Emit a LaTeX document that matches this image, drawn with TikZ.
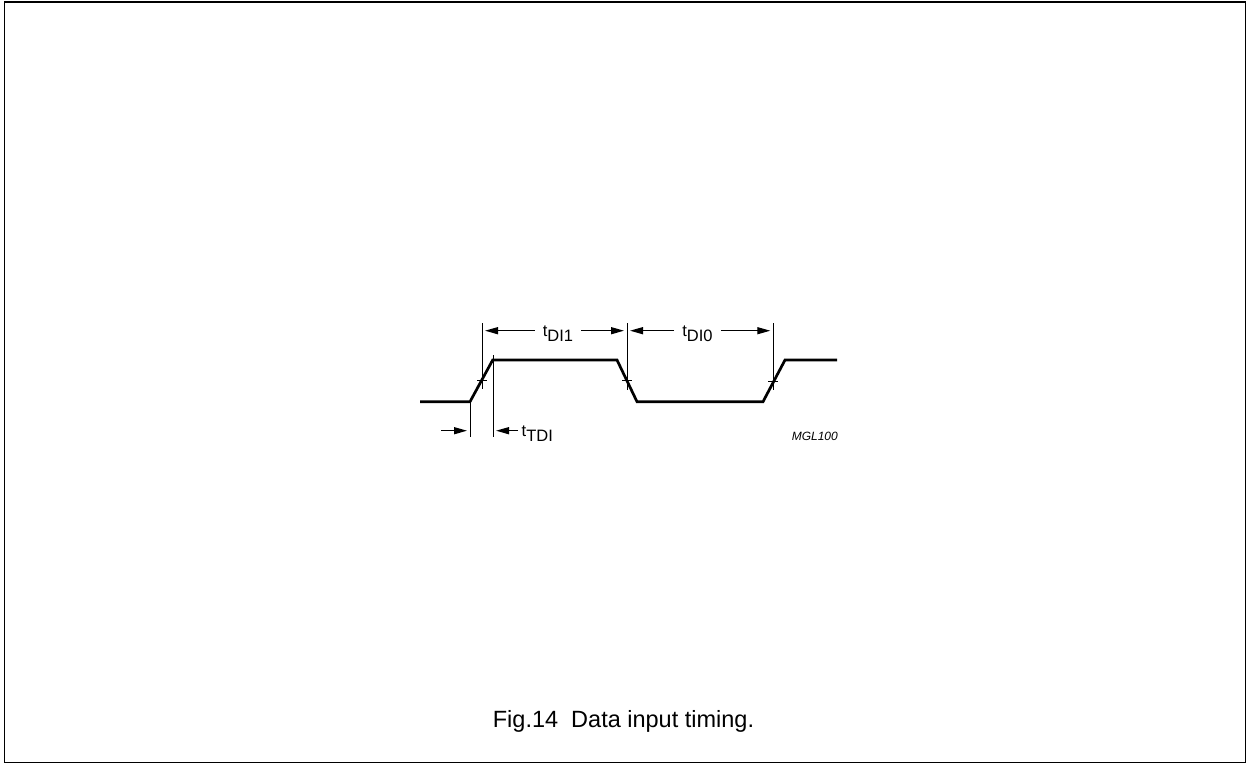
\documentclass[tikz,border=0pt]{standalone}
\usepackage{fontspec}
\setmainfont{Liberation Sans}
\usetikzlibrary{arrows.meta}
\begin{document}
\begin{tikzpicture}[x=1pt,y=-1pt,
  wave/.style={line width=2.7pt, line join=miter, line cap=butt},
  guide/.style={line width=0.8pt},
  tickmark/.style={line width=0.8pt},
  dim/.style={line width=1.3pt, -{Triangle[length=13pt,width=7pt]}, shorten >=3pt},
  lbl/.style={inner ysep=0pt, inner xsep=8pt, font=\fontsize{16.5}{16.5}\selectfont}]
\useasboundingbox (0,0) rectangle (1247,764);
\draw[line width=1.5pt] (4.5,2) rectangle (1245.5,762.5);

% waveform
\coordinate (w0) at (420,401.7);
\coordinate (w1) at (470,401.7);
\coordinate (w2) at (492.7,360);
\coordinate (w3) at (617,360);
\coordinate (w4) at (637,401.7);
\coordinate (w5) at (763,401.7);
\coordinate (w6) at (785,360);
\coordinate (w7) at (837,360);
\draw[wave] (w0) -- (w1) -- (w2) -- (w3) -- (w4) -- (w5) -- (w6) -- (w7);

% guide lines
\coordinate (g1t) at (482,323);   \coordinate (g1b) at (482,389);
\coordinate (g2t) at (627,323);   \coordinate (g2b) at (627,390);
\coordinate (g3t) at (773.3,323); \coordinate (g3b) at (773.3,390);
\coordinate (g4b) at (470,437);
\coordinate (g5t) at (493,355);   \coordinate (g5b) at (493,437);
\draw[guide] (g1t) -- (g1b);
\draw[guide] (g2t) -- (g2b);
\draw[guide] (g3t) -- (g3b);
\draw[guide] (w1) -- (g4b);
\draw[guide] (g5t) -- (g5b);

% crossing ticks
\coordinate (c1) at (482,380.5);
\coordinate (c2) at (627,380.5);
\coordinate (c3) at (773.3,381);
\draw[tickmark] ([xshift=-5pt]c1) -- ([xshift=5pt]c1);
\draw[tickmark] ([xshift=-5pt]c2) -- ([xshift=5pt]c2);
\draw[tickmark] ([xshift=-5pt]c3) -- ([xshift=5pt]c3);

% labels
\coordinate (ay) at (0,330.7);
\node[lbl, anchor=base] (tdi1) at (558,336) {t\raisebox{-5.5pt}{DI1}};
\node[lbl, anchor=base] (tdi0) at (697.5,336) {t\raisebox{-5.5pt}{DI0}};
\draw[dim] (tdi1.west |- ay) -- (g1t |- ay);
\draw[dim] (tdi1.east |- ay) -- (g2t |- ay);
\draw[dim] (tdi0.west |- ay) -- (g2t |- ay);
\draw[dim] (tdi0.east |- ay) -- (g3t |- ay);

% t_TDI
\coordinate (by) at (0,430.7);
\coordinate (tl) at (441,430.7);
\node[lbl, inner xsep=0pt, anchor=base west] (ttdi) at (521.5,436) {t\raisebox{-5.7pt}{TDI}};
\coordinate (tr) at (518,430.7);
\draw[dim] (tl) -- (w1 |- by);
\draw[dim] (tr) -- (g5t |- by);

% code
\node[inner sep=0pt, anchor=base east, font=\fontsize{12}{12}\selectfont\itshape] (code) at (838,440) {MGL100};

% caption
\node[inner sep=0pt, anchor=base, font=\fontsize{23.5}{23.5}\selectfont] (cap) at (623.5,727.3) {Fig.14\ \ Data input timing.};
\end{tikzpicture}
\end{document}
